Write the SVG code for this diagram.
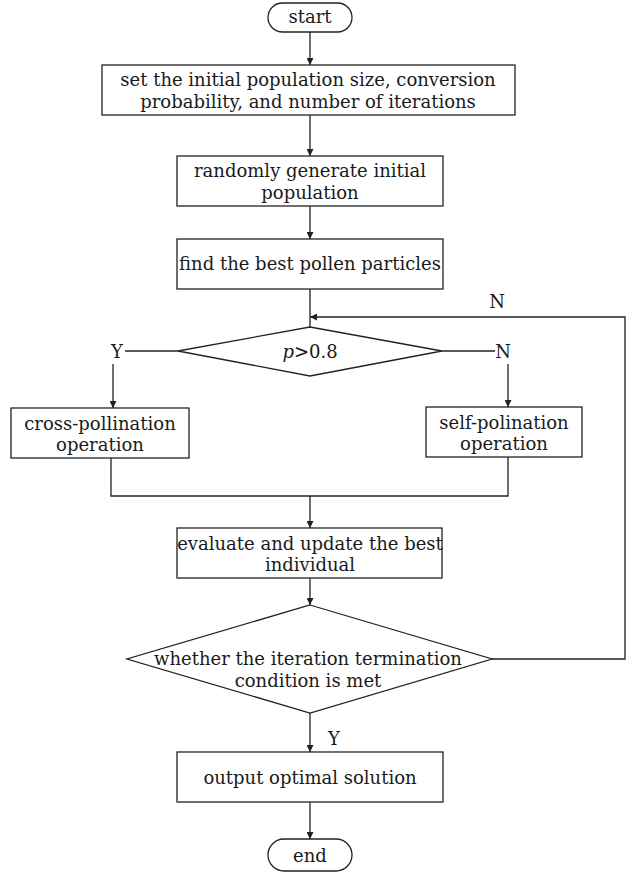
<svg xmlns="http://www.w3.org/2000/svg" width="634" height="874" viewBox="0 0 634 874">
<defs>
<marker id="arr" viewBox="0 0 10 10" refX="10" refY="5" markerWidth="7" markerHeight="7" markerUnits="userSpaceOnUse" orient="auto">
<path d="M0,0 L10,5 L0,10 z" fill="#222"/>
</marker>
<style>
.box{fill:#fff;stroke:#222;stroke-width:1.3}
.ln{fill:none;stroke:#222;stroke-width:1.3}
text{font-family:"DejaVu Serif","Liberation Serif",serif;font-size:18px;fill:#1a1a1a;text-anchor:middle}
</style>
</defs>
<rect width="634" height="874" fill="#fff"/>
<g id="connectors">
<path class="ln" d="M310,32 V65" marker-end="url(#arr)"/>
<path class="ln" d="M310,115 V156" marker-end="url(#arr)"/>
<path class="ln" d="M310,206 V239" marker-end="url(#arr)"/>
<path class="ln" d="M310,289 V327"/>
<path class="ln" d="M178,351 H125"/>
<path class="ln" d="M113,364 V408" marker-end="url(#arr)"/>
<path class="ln" d="M442,351 H495"/>
<path class="ln" d="M508,364 V407" marker-end="url(#arr)"/>
<path class="ln" d="M111,458 V496 H508 V457"/>
<path class="ln" d="M310,496 V528" marker-end="url(#arr)"/>
<path class="ln" d="M310,578 V605" marker-end="url(#arr)"/>
<path class="ln" d="M492,659 H625 V317 H310" marker-end="url(#arr)"/>
<path class="ln" d="M310,713 V752" marker-end="url(#arr)"/>
<path class="ln" d="M310,802 V839" marker-end="url(#arr)"/>
<text x="117" y="358">Y</text>
<text x="503" y="358">N</text>
<text x="497" y="308">N</text>
<text x="334" y="745">Y</text>
</g>
<g id="start"><rect class="box" x="268" y="3" width="84" height="29" rx="14.5"/><text x="310" y="23">start</text></g>
<g id="init"><rect class="box" x="102" y="65" width="413" height="50"/><text x="308" y="86">set the initial population size, conversion</text><text x="308" y="108">probability, and number of iterations</text></g>
<g id="generate"><rect class="box" x="177" y="156" width="266" height="50"/><text x="310" y="177">randomly generate initial</text><text x="310" y="199">population</text></g>
<g id="findbest"><rect class="box" x="177" y="239" width="266" height="50"/><text x="310" y="270">find the best pollen particles</text></g>
<g id="decision1"><polygon class="box" points="310,327 442,351 310,376 178,351"/><text x="310" y="358"><tspan font-style="italic">p</tspan>&gt;0.8</text></g>
<g id="cross"><rect class="box" x="11" y="408" width="178" height="50"/><text x="100" y="430">cross-pollination</text><text x="100" y="451">operation</text></g>
<g id="self"><rect class="box" x="426" y="407" width="156" height="50"/><text x="504" y="429">self-polination</text><text x="504" y="450">operation</text></g>
<g id="evaluate"><rect class="box" x="177" y="528" width="265" height="50"/><text x="310" y="550">evaluate and update the best</text><text x="310" y="571">individual</text></g>
<g id="decision2"><polygon class="box" points="310,605 492,659 310,713 127,659"/><text x="308" y="665">whether the iteration termination</text><text x="308" y="687">condition is met</text></g>
<g id="output"><rect class="box" x="177" y="752" width="266" height="50"/><text x="310" y="784">output optimal solution</text></g>
<g id="end"><rect class="box" x="268" y="839" width="84" height="32" rx="16"/><text x="310" y="862">end</text></g>
</svg>
